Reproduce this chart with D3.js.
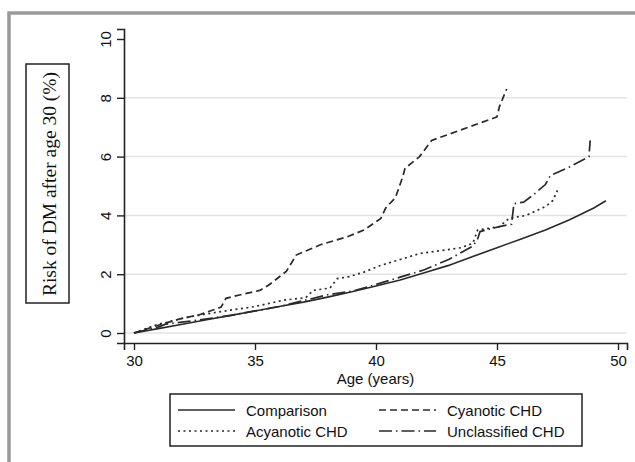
<!DOCTYPE html>
<html lang="en">
<head>
<meta charset="UTF-8">
<title>Risk of DM after age 30</title>
<script src="https://d3js.org/d3.v7.min.js"></script>
<style>
    body { margin: 0; background: #fff; }
    svg { display: block; }
    .tick text { font-family: "Liberation Sans", Arial, sans-serif; font-size: 15px; fill: #111; }
    .legend text { font-family: "Liberation Sans", Arial, sans-serif; font-size: 15px; fill: #111; }
</style>
</head>
<body>
<svg id="chart" width="635" height="462"></svg>
<script>
    // [age, cumulative risk %]
    const comparison = [[30,0],[31,0.15],[32,0.3],[33,0.45],[34,0.6],[35,0.75],[36,0.9],[37,1.05],[38,1.22],
        [39,1.4],[40,1.6],[41,1.8],[42,2.05],[43,2.3],[44,2.6],[45,2.9],[46,3.2],[47,3.5],[48,3.85],[49,4.25],[49.5,4.5]];
    const cyanotic = [[30,0],[30.9,0.24],[31.9,0.48],[32.7,0.62],[33.6,0.88],[33.8,1.18],[34.4,1.3],[35.2,1.45],
        [35.6,1.65],[36.3,2.1],[36.7,2.65],[37.7,3.0],[38.8,3.27],[39.5,3.5],[40.2,3.9],[40.4,4.25],[40.8,4.6],
        [41.1,5.3],[41.2,5.6],[41.8,6.0],[42.3,6.55],[45.0,7.35],[45.1,7.7],[45.4,8.3]];
    const acyanotic = [[30,0],[31,0.3],[31.3,0.35],[32,0.5],[33,0.65],[34,0.78],[35,0.9],[36.2,1.12],[37.1,1.2],
        [37.4,1.45],[38.1,1.53],[38.4,1.85],[38.9,1.92],[39.5,2.07],[40.2,2.3],[41,2.5],[41.8,2.7],[43.5,2.9],
        [44.0,3.05],[44.2,3.5],[45.1,3.62],[45.5,3.9],[46.2,4.0],[47,4.3],[47.3,4.5],[47.5,4.85]];
    const unclassified = [[30,0],[31,0.2],[31.3,0.3],[32.5,0.42],[34,0.6],[35,0.75],[36,0.9],[37,1.1],[38,1.3],
        [39,1.42],[40,1.65],[41,1.9],[42,2.15],[43,2.5],[44,2.95],[44.2,3.2],[44.3,3.45],[45.1,3.62],[45.6,3.7],
        [45.7,4.4],[46.1,4.45],[46.5,4.7],[47,5.05],[47.2,5.35],[48,5.65],[48.8,6.0],[48.85,6.55]];

    const seriesNames = ["Comparison", "Cyanotic CHD", "Acyanotic CHD", "Unclassified CHD"];
    const seriesData = [comparison, cyanotic, acyanotic, unclassified];
    const dashes = [null, "7,4", "2,3.5", "13,4,1.5,4"];

    const xTicks = [30, 35, 40, 45, 50];
    const yTicks = [0, 2, 4, 6, 8, 10];
    const gridTicks = [0, 2, 4, 6, 8];

    const svg = d3.select("#chart");

    // outer grey frame
    svg.append("rect")
        .attr("x", 9).attr("y", 13).attr("width", 640).attr("height", 460)
        .attr("fill", "none").attr("stroke", "#9a9a9a").attr("stroke-width", 3.5);

    const x = d3.scaleLinear().domain([30 - 10 / 24.2, 50 + 9 / 24.2]).range([124, 627]);
    const y = d3.scaleLinear().domain([-10 / 29.4, 10 + 10 / 29.4]).range([343, 29]);

    // gridlines
    svg.append("g").selectAll("line")
        .data(gridTicks)
        .enter().append("line")
        .attr("x1", x.range()[0]).attr("x2", x.range()[1])
        .attr("y1", d => y(d)).attr("y2", d => y(d))
        .attr("stroke", "#e3e3e3").attr("stroke-width", 1.5);

    // axes
    const xAxis = svg.append("g")
        .attr("transform", `translate(0,${y.range()[0]})`)
        .call(d3.axisBottom(x).tickValues(xTicks).tickSizeOuter(0).tickSize(7).tickPadding(5));
    const yAxis = svg.append("g")
        .attr("transform", `translate(${x.range()[0]},0)`)
        .call(d3.axisLeft(y).tickValues(yTicks).tickSizeOuter(0).tickSize(7));

    [xAxis, yAxis].forEach(a => {
        a.select(".domain").attr("stroke", "#222").attr("stroke-width", 1.6);
        a.selectAll(".tick line").attr("stroke", "#222").attr("stroke-width", 1.4);
    });
    xAxis.selectAll(".tick text").attr("dy", "0.74em");
    yAxis.selectAll(".tick text")
        .attr("x", null).attr("dy", null)
        .attr("text-anchor", "middle")
        .attr("transform", "translate(-13,0) rotate(-90)");

    svg.append("text")
        .attr("x", (x.range()[0] + x.range()[1]) / 2)
        .attr("y", 384)
        .attr("text-anchor", "middle")
        .attr("font-family", "Liberation Sans, Arial, sans-serif")
        .attr("font-size", 15)
        .attr("fill", "#111")
        .text("Age (years)");

    // boxed y-axis title
    svg.append("rect")
        .attr("x", 26).attr("y", 64).attr("width", 43).attr("height", 239)
        .attr("fill", "none").attr("stroke", "#222").attr("stroke-width", 1.5);
    svg.append("text")
        .attr("transform", "translate(56,184) rotate(-90)")
        .attr("text-anchor", "middle")
        .attr("font-family", "Liberation Serif, Times New Roman, serif")
        .attr("font-size", 19.5)
        .attr("fill", "#111")
        .text("Risk of DM after age 30 (%)");

    // lines
    const line = d3.line().x(d => x(d[0])).y(d => y(d[1]));
    svg.append("g").selectAll("path")
        .data(seriesData)
        .enter().append("path")
        .attr("d", line)
        .attr("fill", "none")
        .attr("stroke", "#2a2a2a")
        .attr("stroke-width", (d, i) => i === 0 ? 1.6 : 1.7)
        .attr("stroke-dasharray", (d, i) => dashes[i]);

    // legend
    const legend = svg.append("g").attr("class", "legend");
    legend.append("rect")
        .attr("x", 170).attr("y", 394).attr("width", 412).attr("height", 52)
        .attr("fill", "#fff").attr("stroke", "#222").attr("stroke-width", 1.5);

    const items = legend.selectAll("g.item")
        .data(seriesNames)
        .enter().append("g")
        .attr("class", "item")
        .attr("transform", (d, i) => `translate(${i % 2 === 0 ? 178 : 379},${i < 2 ? 410 : 431})`);
    items.append("line")
        .attr("x1", 0).attr("x2", 57)
        .attr("stroke", "#2a2a2a").attr("stroke-width", 1.6)
        .attr("stroke-dasharray", (d, i) => dashes[i]);
    items.append("text")
        .attr("x", 68).attr("y", 5.5)
        .text(d => d);
</script>
</body>
</html>
